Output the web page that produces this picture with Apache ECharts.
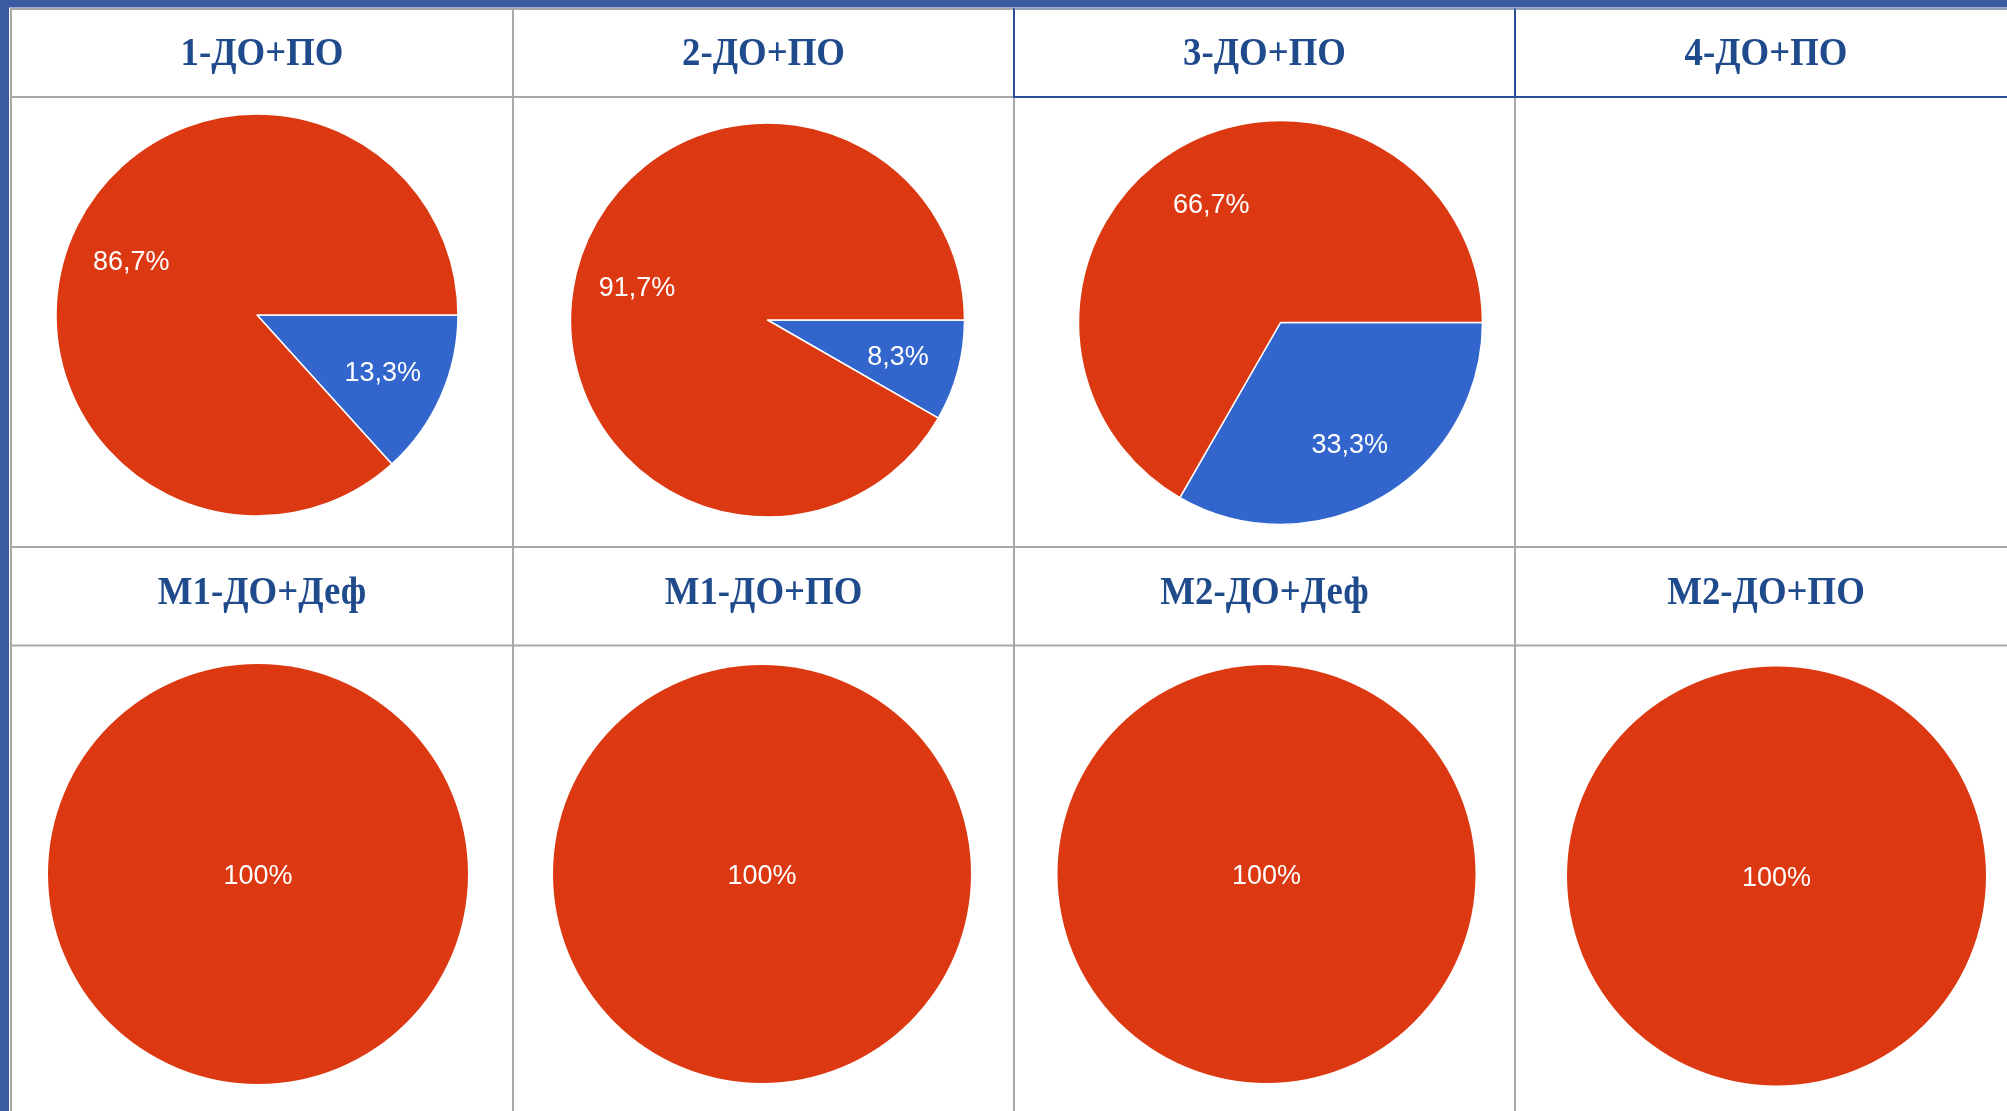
<!DOCTYPE html>
<html>
<head>
<meta charset="utf-8">
<script src="https://cdn.jsdelivr.net/npm/echarts@6/dist/echarts.min.js"></script>
<style>
html,body{margin:0;padding:0;background:#ffffff;}
#c{width:2007px;height:1111px;}
</style>
</head>
<body>
<div id="c"></div>
<script>
// ---------- data ----------
const titles = ['1-ДО+ПО', '2-ДО+ПО', '3-ДО+ПО', '4-ДО+ПО', 'М1-ДО+Деф', 'М1-ДО+ПО', 'М2-ДО+Деф', 'М2-ДО+ПО'];
const sliceNames = ['Вариант 1', 'Вариант 2'];
const bluePct = [13.3, 8.3, 33.3, null, 0, 0, 0, 0];
const redPct  = [86.7, 91.7, 66.7, null, 100, 100, 100, 100];

// ---------- layout ----------
const colX = [11, 513, 1014, 1515, 2017];
const rowY = [8, 97, 547, 645.5, 1111];
const pieLayout = [
  [257, 315, 201], [767.5, 320, 197], [1280.5, 322.5, 202], null,
  [258, 874, 210], [762, 874, 209], [1266.5, 874, 209], [1776.5, 876, 209.5]
];
const titleY = [54.5, 593.5];
const BLUE = '#3366cc', RED = '#dc3912';
const GRID = '#a8a8a8', FRAME = '#3a5aa1', SEL = '#2b4d95', TITLE = '#1f4a8c';

function fmt(p) {
  return String(p.value).replace('.', ',') + '%';
}

const chart = echarts.init(document.getElementById('c'), null, {renderer: 'canvas'});

const series = [];
titles.forEach((t, i) => {
  const L = pieLayout[i];
  if (!L || redPct[i] == null) return;
  const data = [];
  if (bluePct[i] > 0) data.push({name: sliceNames[0], value: bluePct[i], itemStyle: {color: BLUE}});
  if (redPct[i] > 0) data.push({name: sliceNames[1], value: redPct[i], itemStyle: {color: RED}});
  const single = data.length === 1;
  const labelStyle = {color: '#ffffff', fontFamily: 'Liberation Sans', fontSize: 27, formatter: fmt};
  series.push({
    type: 'pie', name: t, center: [L[0], L[1]], radius: [0, L[2]],
    startAngle: 0, clockwise: true, silent: true, animation: false,
    avoidLabelOverlap: false,
    itemStyle: {borderColor: '#ffffff', borderWidth: single ? 0 : 1.5},
    label: Object.assign({show: single, position: 'center'}, labelStyle),
    labelLayout: {dy: 3},
    labelLine: {show: false},
    emphasis: {disabled: true},
    data: data
  });
  if (!single) {
    series.push({
      type: 'pie', name: t + ' labels', center: [L[0], L[1]], radius: [L[2] * 0.34, L[2]],
      startAngle: 0, clockwise: true, silent: true, animation: false,
      avoidLabelOverlap: false,
      itemStyle: {color: 'transparent', borderWidth: 0},
      label: Object.assign({show: true, position: 'inside'}, labelStyle),
      labelLayout: {dy: 3},
      labelLine: {show: false},
      emphasis: {disabled: true},
      data: data.map(d => ({name: d.name, value: d.value}))
    });
  }
});

// ---------- table graphics ----------
const g = [];
g.push({type: 'rect', shape: {x: 0, y: 0, width: 2007, height: 1111}, style: {fill: '#ffffff'}, z: -10});
// gray grid
[rowY[0] + 1, rowY[1], rowY[2], rowY[3]].forEach(y => {
  g.push({type: 'line', shape: {x1: colX[0], y1: y, x2: 2007, y2: y}, style: {stroke: GRID, lineWidth: 2}, z: -5});
});
colX.slice(0, 4).forEach(x => {
  g.push({type: 'line', shape: {x1: x, y1: rowY[0], x2: x, y2: 1111}, style: {stroke: GRID, lineWidth: 2}, z: -5});
});
// selected header cells (3rd & 4th) outlined in blue
g.push({type: 'polyline', shape: {points: [[colX[2], rowY[0]], [colX[2], rowY[1]], [2007, rowY[1]]]}, style: {stroke: SEL, lineWidth: 2, fill: null}, z: -4});
g.push({type: 'line', shape: {x1: colX[3], y1: rowY[0], x2: colX[3], y2: rowY[1]}, style: {stroke: SEL, lineWidth: 2}, z: -4});
g.push({type: 'line', shape: {x1: colX[2], y1: rowY[0] + 1, x2: 2007, y2: rowY[0] + 1}, style: {stroke: '#7f95c6', lineWidth: 1}, z: -4});
// outer blue frame
g.push({type: 'rect', shape: {x: 0, y: 0, width: 2007, height: 7.5}, style: {fill: FRAME}, z: -3});
g.push({type: 'rect', shape: {x: 0, y: 0, width: 9, height: 1111}, style: {fill: FRAME}, z: -3});
// header titles
titles.forEach((t, i) => {
  const c = i % 4, r = Math.floor(i / 4);
  g.push({
    type: 'text', x: (colX[c] + colX[c + 1]) / 2, y: titleY[r], scaleX: 0.92, scaleY: 1,
    style: {text: t, x: 0, y: 0, fill: TITLE, font: 'bold 40px "Liberation Serif", "Times New Roman", serif',
            textAlign: 'center', textVerticalAlign: 'middle'},
    z: 5
  });
});

chart.setOption({
  backgroundColor: '#ffffff',
  animation: false,
  graphic: {elements: g},
  series: series
});
</script>
</body>
</html>
